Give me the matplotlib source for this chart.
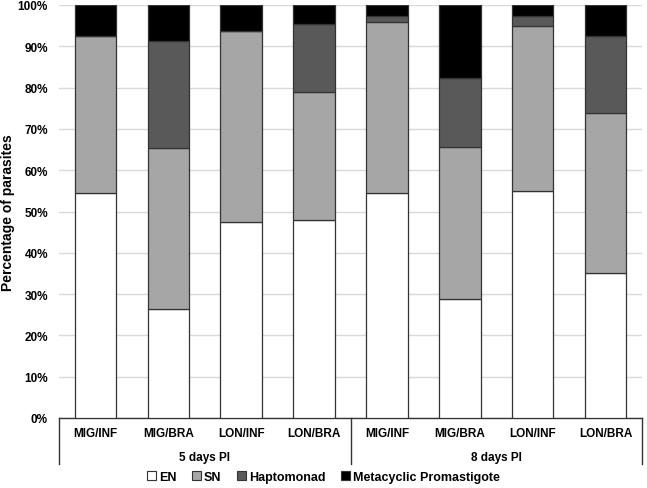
import numpy as np
import matplotlib
matplotlib.use('Agg')
import matplotlib.pyplot as plt
from matplotlib.patches import Patch

plt.rcParams['font.family'] = ['Liberation Sans', 'DejaVu Sans']
plt.rcParams['font.weight'] = 'bold'

categories = ['MIG/INF', 'MIG/BRA', 'LON/INF', 'LON/BRA',
              'MIG/INF', 'MIG/BRA', 'LON/INF', 'LON/BRA']
groups = ['5 days PI', '8 days PI']

en = [54.5, 26.4, 47.4, 48.0, 54.5, 28.9, 55.0, 35.0]
sn = [37.9, 39.0, 46.4, 31.0, 41.5, 36.6, 40.0, 38.9]
hapto = [0.0, 26.0, 0.0, 16.3, 1.3, 16.8, 2.3, 18.5]
meta = [7.6, 8.6, 6.2, 4.7, 2.7, 17.7, 2.7, 7.6]

series = [('EN', en, '#ffffff'), ('SN', sn, '#a6a6a6'),
          ('Haptomonad', hapto, '#595959'), ('Metacyclic Promastigote', meta, '#000000')]

fig = plt.figure(figsize=(6.47, 4.89), dpi=100)
ax = fig.add_axes([59 / 647, 70 / 489, 583 / 647, 413 / 489])

x = np.arange(len(categories))
bottom = np.zeros(len(categories))
for name, vals, col in series:
    vals = np.array(vals)
    ax.bar(x, vals, width=0.57, bottom=bottom, color=col, edgecolor='#333333',
           linewidth=0.9, zorder=3)
    bottom += vals

ax.set_xlim(-0.5, len(categories) - 0.5)
ax.set_ylim(0, 100)
ax.set_yticks(np.arange(0, 101, 10))
ax.set_yticklabels([f'{v}%' for v in range(0, 101, 10)], fontsize=8.5, fontweight='bold')
ax.tick_params(axis='y', length=0, pad=8)
ax.set_xticks([])
ax.grid(axis='y', color='#d9d9d9', linewidth=1, zorder=0)
for s in ['left', 'right', 'top']:
    ax.spines[s].set_visible(False)
ax.spines['bottom'].set_color('#333333')
ax.spines['bottom'].set_linewidth(1)
ax.set_ylabel('Percentage of parasites', fontsize=10, fontweight='bold')
ax.yaxis.set_label_coords(-44 / 583, 0.5)

# grouped category axis
tr = ax.get_xaxis_transform()
for xi, lab in zip(x, categories):
    ax.text(xi, -0.037, lab, transform=tr, ha='center', va='center',
            fontsize=8.5, fontweight='bold')
for xv in [-0.5, 3.5, 7.5]:
    ax.plot([xv, xv], [0, -0.111], transform=tr, color='#333333', linewidth=1, clip_on=False)
for gi, g in enumerate(groups):
    ax.text(gi * 4 + 1.5, -0.095, g, transform=tr, ha='center', va='center',
            fontsize=8.5, fontweight='bold')

handles = [Patch(facecolor=col, edgecolor='#333333', linewidth=0.8, label=name)
           for name, vals, col in series]
fig.legend(handles=handles, loc='center', bbox_to_anchor=(0.5, 11 / 489), ncol=4,
           frameon=False, fontsize=9, handlelength=0.65, handleheight=0.65,
           handletextpad=0.25, columnspacing=1.3, borderaxespad=0)

fig.savefig('out.png', dpi=100)
